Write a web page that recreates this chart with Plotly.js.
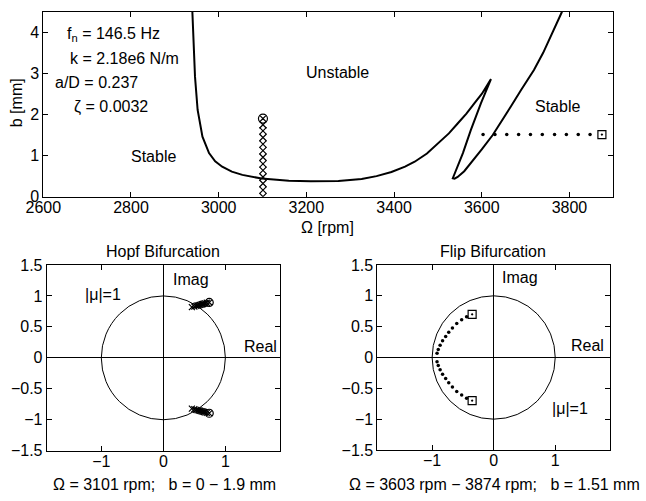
<!DOCTYPE html>
<html>
<head>
<meta charset="utf-8">
<script src="https://cdn.plot.ly/plotly-3.0.1.min.js"></script>
<style>html,body{margin:0;padding:0;background:#fff;}#chart{width:646px;height:501px;}</style>
</head>
<body>
<div id="chart"></div>
<script>
// ---- Stability lobe boundary (top plot) ----
var lobeOmega = [2940, 2943, 2946, 2952, 2963, 2978, 2992, 3008, 3030, 3054, 3098, 3160, 3210, 3273, 3326, 3360, 3394, 3425, 3447, 3475, 3500, 3525, 3545, 3565, 3583, 3600, 3613, 3621,
                 3598, 3575, 3557, 3542, 3536, 3534, 3538, 3545, 3560, 3575, 3600, 3625, 3645, 3666, 3690, 3719, 3740, 3757, 3770, 3783];
var lobeB     = [4.5, 3.5, 2.92, 2.11, 1.46, 1.06, 0.86, 0.73, 0.61, 0.53, 0.44, 0.39, 0.375, 0.38, 0.43, 0.5, 0.6, 0.73, 0.85, 1.05, 1.3, 1.54, 1.78, 2.02, 2.27, 2.5, 2.72, 2.86,
                 2.27, 1.62, 1.06, 0.65, 0.5, 0.45, 0.44, 0.48, 0.62, 0.81, 1.15, 1.5, 1.85, 2.19, 2.6, 3.08, 3.5, 3.89, 4.2, 4.5];

// ---- Hopf test points (Omega = 3101 rpm, b = 0 - 1.9 mm) ----
var hopfOmega = [3101, 3101, 3101, 3101, 3101, 3101, 3101, 3101, 3101, 3101, 3101, 3101];
var hopfB     = [0, 0.16, 0.32, 0.48, 0.64, 0.8, 0.96, 1.12, 1.28, 1.44, 1.6, 1.75];
var hopfEndOmega = [3101];
var hopfEndB     = [1.9];

// ---- Flip test points (Omega = 3603 - 3874 rpm, b = 1.51 mm) ----
var flipOmega = [3603, 3630, 3657, 3684, 3711, 3738, 3766, 3793, 3820, 3847];
var flipB     = [1.51, 1.51, 1.51, 1.51, 1.51, 1.51, 1.51, 1.51, 1.51, 1.51];
var flipEndOmega = [3874];
var flipEndB     = [1.51];

// ---- Hopf eigenvalues ----
var hopfRe    = [0.46, 0.50, 0.53, 0.55, 0.57, 0.59, 0.61, 0.625, 0.64, 0.655, 0.675, 0.70];
var hopfImUp  = [0.82, 0.83, 0.84, 0.845, 0.85, 0.855, 0.86, 0.865, 0.87, 0.875, 0.88, 0.89];
var hopfImLo  = [-0.82, -0.83, -0.84, -0.845, -0.85, -0.855, -0.86, -0.865, -0.87, -0.875, -0.88, -0.89];
var hopfEndRe = [0.74, 0.74];
var hopfEndIm = [0.895, -0.895];

// ---- Flip eigenvalues ----
var flipRe    = [-0.92, -0.90, -0.87, -0.83, -0.78, -0.73, -0.67, -0.60, -0.52, -0.44];
var flipImUp  = [0.07, 0.13, 0.20, 0.27, 0.34, 0.41, 0.48, 0.55, 0.61, 0.66];
var flipImLo  = [-0.07, -0.13, -0.20, -0.27, -0.34, -0.41, -0.48, -0.55, -0.61, -0.66];
var flipEndRe = [-0.35, -0.35];
var flipEndIm = [0.70, -0.70];

// ---- tick labels ----
var topXTicks = [2600, 2800, 3000, 3200, 3400, 3600, 3800];
var topYTicks = [0, 1, 2, 3, 4];
var cxTicks = [-1, 0, 1];
var cyTicks = [-1.5, -1, -0.5, 0, 0.5, 1, 1.5];

var FONT = 'Liberation Sans, Arial, Helvetica, sans-serif';
var black = '#000';

var traces = [
  {x: lobeOmega, y: lobeB, xaxis: 'x', yaxis: 'y', mode: 'lines', line: {color: black, width: 2}},
  {x: hopfOmega, y: hopfB, xaxis: 'x', yaxis: 'y', mode: 'markers', marker: {symbol: 'x-thin-open', size: 7, color: black, line: {color: black, width: 1.2}}},
  {x: hopfEndOmega, y: hopfEndB, xaxis: 'x', yaxis: 'y', mode: 'markers', marker: {symbol: 'circle-x-open', size: 9, color: black, line: {color: black, width: 1.2}}},
  {x: flipOmega, y: flipB, xaxis: 'x', yaxis: 'y', mode: 'markers', marker: {symbol: 'circle', size: 3.5, color: black}},
  {x: flipEndOmega, y: flipEndB, xaxis: 'x', yaxis: 'y', mode: 'markers', marker: {symbol: 'square-open-dot', size: 8, color: black, line: {color: black, width: 1.2}}},

  {x: hopfRe, y: hopfImUp, xaxis: 'x2', yaxis: 'y2', mode: 'markers', marker: {symbol: 'x-thin-open', size: 6, color: black, line: {color: black, width: 1.2}}},
  {x: hopfRe, y: hopfImLo, xaxis: 'x2', yaxis: 'y2', mode: 'markers', marker: {symbol: 'x-thin-open', size: 6, color: black, line: {color: black, width: 1.2}}},
  {x: hopfEndRe, y: hopfEndIm, xaxis: 'x2', yaxis: 'y2', mode: 'markers', marker: {symbol: 'circle-x-open', size: 8, color: black, line: {color: black, width: 1.2}}},

  {x: flipRe, y: flipImUp, xaxis: 'x3', yaxis: 'y3', mode: 'markers', marker: {symbol: 'circle', size: 3.5, color: black}},
  {x: flipRe, y: flipImLo, xaxis: 'x3', yaxis: 'y3', mode: 'markers', marker: {symbol: 'circle', size: 3.5, color: black}},
  {x: flipEndRe, y: flipEndIm, xaxis: 'x3', yaxis: 'y3', mode: 'markers', marker: {symbol: 'square-open-dot', size: 8, color: black, line: {color: black, width: 1.2}}}
];

function ax(extra) {
  var base = {
    showline: true, linecolor: black, linewidth: 1, mirror: 'allticks',
    ticks: 'inside', ticklen: 5, tickwidth: 1, tickcolor: black,
    showgrid: false, zeroline: false, fixedrange: true,
    tickfont: {family: FONT, size: 16, color: black}
  };
  for (var k in extra) base[k] = extra[k];
  return base;
}

var layout = {
  width: 646, height: 501,
  margin: {l: 0, r: 0, t: 0, b: 0},
  paper_bgcolor: '#fff', plot_bgcolor: '#fff',
  showlegend: false,
  font: {family: FONT, size: 16, color: black},
  xaxis:  ax({domain: [0.0670, 0.9494], range: [2600, 3900], tickvals: topXTicks, anchor: 'y', ticklabelstandoff: -4}),
  yaxis:  ax({domain: [0.6074, 0.9766], range: [0, 4.5], tickvals: topYTicks, anchor: 'x'}),
  xaxis2: ax({domain: [0.0723, 0.4334], range: [-1.88, 1.88], tickvals: cxTicks, anchor: 'y2', ticklabelstandoff: -4, zeroline: true, zerolinecolor: black, zerolinewidth: 1}),
  yaxis2: ax({domain: [0.1004, 0.4711], range: [-1.5, 1.5], tickvals: cyTicks, anchor: 'x2', zeroline: true, zerolinecolor: black, zerolinewidth: 1}),
  xaxis3: ax({domain: [0.5841, 0.9443], range: [-1.89, 1.89], tickvals: cxTicks, anchor: 'y3', ticklabelstandoff: -4, zeroline: true, zerolinecolor: black, zerolinewidth: 1}),
  yaxis3: ax({domain: [0.1018, 0.4711], range: [-1.5, 1.5], tickvals: cyTicks, anchor: 'x3', zeroline: true, zerolinecolor: black, zerolinewidth: 1}),
  shapes: [
    {type: 'circle', xref: 'x2', yref: 'y2', x0: -1, y0: -1, x1: 1, y1: 1, line: {color: black, width: 1}},
    {type: 'circle', xref: 'x3', yref: 'y3', x0: -1, y0: -1, x1: 1, y1: 1, line: {color: black, width: 1}}
  ],
  annotations: [
    // top plot
    {xref: 'x', yref: 'y', x: 2649, y: 3.95, text: 'f<sub>n</sub> = 146.5 Hz', showarrow: false, xanchor: 'left', yanchor: 'middle'},
    {xref: 'x', yref: 'y', x: 2656, y: 3.37, text: 'k = 2.18e6 N/m', showarrow: false, xanchor: 'left', yanchor: 'middle'},
    {xref: 'x', yref: 'y', x: 2622, y: 2.77, text: 'a/D = 0.237', showarrow: false, xanchor: 'left', yanchor: 'middle'},
    {xref: 'x', yref: 'y', x: 2665, y: 2.18, text: 'ζ = 0.0032', showarrow: false, xanchor: 'left', yanchor: 'middle'},
    {xref: 'x', yref: 'y', x: 2852, y: 0.99, text: 'Stable', showarrow: false, xanchor: 'center', yanchor: 'middle'},
    {xref: 'x', yref: 'y', x: 3272, y: 3.03, text: 'Unstable', showarrow: false, xanchor: 'center', yanchor: 'middle'},
    {xref: 'x', yref: 'y', x: 3772, y: 2.2, text: 'Stable', showarrow: false, xanchor: 'center', yanchor: 'middle'},
    {xref: 'paper', yref: 'paper', x: 0.5077, y: 0.545, text: 'Ω [rpm]', showarrow: false, xanchor: 'center', yanchor: 'middle'},
    {xref: 'paper', yref: 'paper', x: 0.0248, y: 0.794, text: 'b [mm]', textangle: -90, showarrow: false, xanchor: 'center', yanchor: 'middle'},
    // Hopf
    {xref: 'paper', yref: 'paper', x: 0.2523, y: 0.499, text: 'Hopf Bifurcation', showarrow: false, xanchor: 'center', yanchor: 'middle'},
    {xref: 'x2', yref: 'y2', x: 0.12, y: 1.27, text: 'Imag', showarrow: false, xanchor: 'left', yanchor: 'middle'},
    {xref: 'x2', yref: 'y2', x: -1.30, y: 1.03, text: '|μ|=1', showarrow: false, xanchor: 'left', yanchor: 'middle'},
    {xref: 'x2', yref: 'y2', x: 1.27, y: 0.19, text: 'Real', showarrow: false, xanchor: 'left', yanchor: 'middle'},
    {xref: 'paper', yref: 'paper', x: 0.254, y: 0.032, text: 'Ω = 3101 rpm;\u00a0\u00a0\u00a0b = 0 − 1.9 mm', showarrow: false, xanchor: 'center', yanchor: 'middle'},
    // Flip
    {xref: 'paper', yref: 'paper', x: 0.763, y: 0.499, text: 'Flip Bifurcation', showarrow: false, xanchor: 'center', yanchor: 'middle'},
    {xref: 'x3', yref: 'y3', x: 0.11, y: 1.29, text: 'Imag', showarrow: false, xanchor: 'left', yanchor: 'middle'},
    {xref: 'x3', yref: 'y3', x: 1.23, y: 0.19, text: 'Real', showarrow: false, xanchor: 'left', yanchor: 'middle'},
    {xref: 'x3', yref: 'y3', x: 0.91, y: -0.82, text: '|μ|=1', showarrow: false, xanchor: 'left', yanchor: 'middle'},
    {xref: 'paper', yref: 'paper', x: 0.766, y: 0.032, text: 'Ω = 3603 rpm − 3874 rpm;\u00a0\u00a0\u00a0b = 1.51 mm', showarrow: false, xanchor: 'center', yanchor: 'middle'}
  ]
};

Plotly.newPlot('chart', traces, layout, {staticPlot: true, displayModeBar: false});
</script>
</body>
</html>
